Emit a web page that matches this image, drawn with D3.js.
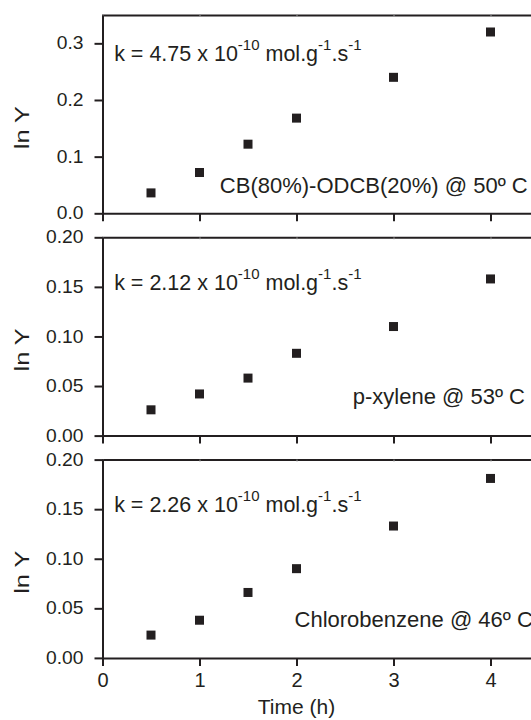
<!DOCTYPE html>
<html>
<head>
<meta charset="utf-8">
<script src="https://cdn.jsdelivr.net/npm/d3@7"></script>
<style>
  body { margin: 0; background: #fff; }
  svg text { font-family: "Liberation Sans", Arial, sans-serif; fill: #231f20; }
  .axis path, .axis line { stroke: #231f20; stroke-width: 2px; }
  .axis text { font-size: 17.5px; }
  .xaxis text { font-size: 20px; }
</style>
</head>
<body>
<svg id="chart"></svg>
<script>
// time points (h) and ln Y for each solvent
const times = [0.5, 1, 1.5, 2, 3, 4];
const lnYMixed = [0.036, 0.072, 0.122, 0.168, 0.240, 0.320];
const lnYXylene = [0.026, 0.042, 0.058, 0.083, 0.110, 0.158];
const lnYChloro = [0.023, 0.038, 0.066, 0.090, 0.133, 0.181];

const rateConstants = ["4.75", "2.12", "2.26"];
const solventLabels = ["CB(80%)-ODCB(20%) @ 50º C", "p-xylene @ 53º C", "Chlorobenzene @ 46º C"];
const yMax = [0.35, 0.20, 0.20];
const yTicks = [[0, 0.1, 0.2, 0.3], [0, 0.05, 0.10, 0.15, 0.20], [0, 0.05, 0.10, 0.15, 0.20]];
const yFormats = [".1f", ".2f", ".2f"];
const xTicks = [0, 1, 2, 3, 4];

const series = [lnYMixed, lnYXylene, lnYChloro];

var width = 531, height = 720;
var margin = { top: 15, left: 102.5 };
var panelH = 198.3, gap = 24;

// the original typeface is a bit wider than Arial
function stretch(sel, k) {
  sel.each(function() {
    var w = this.getComputedTextLength();
    d3.select(this)
      .attr("textLength", w * k)
      .attr("lengthAdjust", "spacingAndGlyphs");
  });
}

var svg = d3.select("#chart")
  .attr("width", width)
  .attr("height", height);

var x = d3.scaleLinear()
  .domain([0, 4.5])
  .range([margin.left, margin.left + 4.5 * 97]);

series.forEach((vals, p) => {
  var top = margin.top + p * (panelH + gap);
  var bottom = top + panelH;

  var y = d3.scaleLinear()
    .domain([0, yMax[p]])
    .range([bottom, top]);

  var g = svg.append("g");

  // top frame with small inward ticks
  g.append("g")
    .attr("class", "axis")
    .attr("transform", `translate(0,${top})`)
    .call(d3.axisTop(x).tickValues(xTicks).tickSize(-2).tickFormat(""))
    .call(a => a.selectAll("line").style("stroke-width", "1px").style("stroke", "#999"));

  // bottom axis
  g.append("g")
    .attr("class", "axis xaxis")
    .attr("transform", `translate(0,${bottom})`)
    .call(d3.axisBottom(x).tickValues(xTicks).tickSizeInner(8).tickSizeOuter(0)
      .tickPadding(7)
      .tickFormat(p == 2 ? d3.format("d") : ""));

  // left axis
  g.append("g")
    .attr("class", "axis")
    .attr("transform", `translate(${margin.left},0)`)
    .call(d3.axisLeft(y).tickValues(yTicks[p]).tickSizeInner(8).tickSizeOuter(0)
      .tickPadding(11)
      .tickFormat(d3.format(yFormats[p])))
    .call(a => stretch(a.selectAll("text"), 1.1));

  // data points
  g.selectAll(".pt")
    .data(vals)
    .enter().append("rect")
    .attr("class", "pt")
    .attr("x", (d, i) => x(times[i]) - 4.5)
    .attr("y", d => y(d) - 4.5)
    .attr("width", 9)
    .attr("height", 9)
    .style("fill", "#231f20");

  // rate constant annotation
  var kText = g.append("text")
    .attr("x", x(0.12))
    .attr("y", p == 0 ? y(0.269) : y(0.147))
    .style("font-size", "21.5px");
  kText.append("tspan").text("k = " + rateConstants[p] + " x 10");
  kText.append("tspan").attr("dy", -11).style("font-size", "15px").text("-10");
  kText.append("tspan").attr("dy", 11).text(" mol.g");
  kText.append("tspan").attr("dy", -11).style("font-size", "15px").text("-1");
  kText.append("tspan").attr("dy", 11).text(".s");
  kText.append("tspan").attr("dy", -11).style("font-size", "15px").text("-1");

  // solvent label
  var labelPos = [[1.21, 0.0353], [2.58, 0.032], [1.98, 0.0308]];
  g.append("text")
    .attr("x", x(labelPos[p][0]))
    .attr("y", y(labelPos[p][1]))
    .style("font-size", "22px")
    .text(solventLabels[p]);

  // y axis title
  g.append("text")
    .attr("transform", `translate(28.5,${(top + bottom) / 2 + 13.5}) rotate(-90)`)
    .style("text-anchor", "middle")
    .style("font-size", "21px")
    .text("ln Y")
    .call(t => stretch(t, 1.2));
});

// x axis title
svg.append("text")
  .attr("x", x(2))
  .attr("y", 714)
  .style("text-anchor", "middle")
  .style("font-size", "21px")
  .text("Time (h)");
</script>
</body>
</html>
